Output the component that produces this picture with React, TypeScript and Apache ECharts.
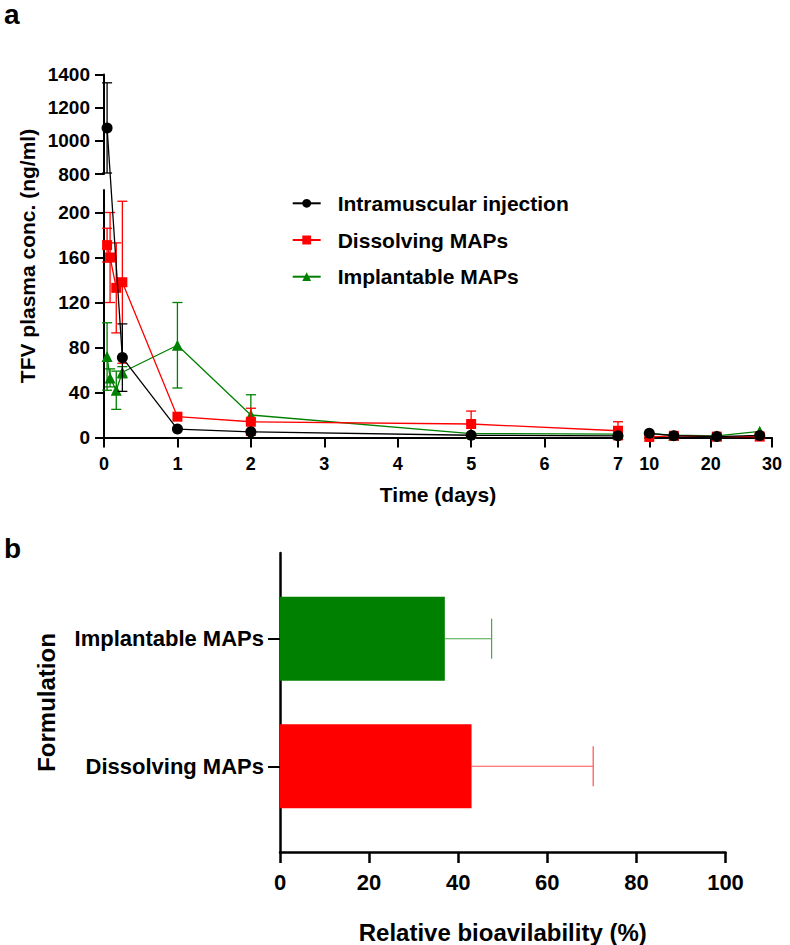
import React, { useEffect, useRef } from 'react';
import * as echarts from 'echarts';

// ---------- Panel a data (TFV plasma concentration, ng/ml) ----------
const earlyTimesIM = [0.042, 0.25, 1, 2, 5, 7];
const meanIM = [1078, 71, 7.5, 5, 2, 1.5];
const sdIM = [272, 30, 0, 0, 0, 0];

const earlyTimesMAP = [0.042, 0.083, 0.167, 0.25, 1, 2, 5, 7];
const meanDissolving = [171, 160, 133, 138, 18.5, 14, 12, 6];
const sdDissolving = [15, 40, 40, 72, 0, 12, 11.5, 8];
const meanImplantable = [72, 53, 42, 58, 82, 20, 3.5, 3];
const sdImplantable = [30, 8, 17, 5, 38, 18, 0, 0];

const lateTimes = [10, 14, 21, 28];
const lateIM = [3.7, 1.6, 0.8, 1.8];
const lateDissolving = [0.5, 1.5, 0.8, 0.8];
const lateImplantable = [3.5, 2, 1.5, 5.5];

const lateXTicks = [10, 20, 30];
const lowYTicks = [0, 40, 80, 120, 160, 200];

// ---------- Panel b data (relative bioavailability, %) ----------
const formulations = ['Dissolving MAPs', 'Implantable MAPs'];
const bioMean = [43, 37];
const bioSd = [27.3, 10.5];

// ---------- styling / layout ----------
const FONT = '"Liberation Sans", Arial, Helvetica, sans-serif';
const C_IM = '#000000';
const C_DM = '#ff0000';
const C_IMP = '#008000';
const BAR_COLORS = ['#ff0000', '#008000'];
const BAR_ERR_COLORS = ['#ff5050', '#45a845'];

const A_LEFT = 104;
const A_TOP = 74.5;
const A_BOTTOM = 437.5;
const A_H = A_BOTTOM - A_TOP;
const SEG_HI_H = 99.5;
const SEG_GAP = 16;
const SEG_LO_H = A_H - SEG_HI_H - SEG_GAP;
const LO_MAX = 220;
const HI_MIN = 800;
const HI_MAX = 1400;

// broken-axis mapping: raw concentration -> position on the continuous hidden axis
const tf = (v: number) =>
  v <= LO_MAX
    ? (v / LO_MAX) * SEG_LO_H
    : SEG_LO_H + SEG_GAP + ((v - HI_MIN) / (HI_MAX - HI_MIN)) * SEG_HI_H;

const lineData = (t: number[], m: number[]) => t.map((x, i) => [x, tf(m[i])]);
const errData = (t: number[], m: number[], s: number[]) =>
  t
    .map((x, i) => (s[i] > 0 ? [x, tf(m[i]), tf(m[i] + s[i]), tf(m[i] - s[i])] : null))
    .filter((d) => d !== null);

const errRender = (color: string) => (params: any, api: any) => {
  const x = api.value(0);
  const top = api.coord([x, api.value(2)]);
  const bot = api.coord([x, api.value(3)]);
  const hw = 5;
  const style = { stroke: color, lineWidth: 1.3, fill: 'none' };
  return {
    type: 'group',
    children: [
      { type: 'line', shape: { x1: top[0], y1: top[1], x2: bot[0], y2: bot[1] }, style },
      { type: 'line', shape: { x1: top[0] - hw, y1: top[1], x2: top[0] + hw, y2: top[1] }, style },
      { type: 'line', shape: { x1: bot[0] - hw, y1: bot[1], x2: bot[0] + hw, y2: bot[1] }, style },
    ],
  };
};

const barErrRender = (params: any, api: any) => {
  const idx = params.dataIndex;
  const v = api.value(0);
  const c = api.value(1);
  const s = api.value(2);
  const p0 = api.coord([v, c]);
  const p1 = api.coord([v + s, c]);
  const hh = 20;
  const style = { stroke: BAR_ERR_COLORS[idx], lineWidth: 1.2, fill: 'none' };
  return {
    type: 'group',
    children: [
      { type: 'line', shape: { x1: p0[0], y1: p0[1], x2: p1[0], y2: p1[1] }, style },
      { type: 'line', shape: { x1: p1[0], y1: p1[1] - hh, x2: p1[0], y2: p1[1] + hh }, style },
    ],
  };
};

const boldText = (size: number) => ({
  fontFamily: FONT,
  fontWeight: 'bold' as const,
  fontSize: size,
  color: '#000',
});

const plain = (v: number) => String(v);

const lineSeries = (
  name: string,
  xi: number,
  data: number[][],
  color: string,
  symbol: string,
  size: number,
  z: number
) => ({
  type: 'line',
  name,
  xAxisIndex: xi,
  yAxisIndex: xi,
  data,
  symbol,
  symbolSize: size,
  showSymbol: true,
  z,
  lineStyle: { color, width: 1.3 },
  itemStyle: { color },
  emphasis: { disabled: true },
});

const errSeries = (xi: number, data: any[], color: string, z: number) => ({
  type: 'custom',
  xAxisIndex: xi,
  yAxisIndex: xi,
  data,
  encode: { x: 0, y: [2, 3] },
  renderItem: errRender(color),
  z,
  silent: true,
});

export default function App() {
  const ref = useRef<HTMLDivElement>(null);

  useEffect(() => {
    if (!ref.current) return;
    const chart = echarts.init(ref.current, undefined, { renderer: 'svg' });
    const axisLineA = { show: true, onZero: false, lineStyle: { color: '#000', width: 2 } };
    const axisLineB = { show: true, onZero: false, lineStyle: { color: '#000', width: 2.5 } };

    const option: any = {
      animation: false,
      legend: {
        orient: 'vertical',
        left: 286.7,
        top: 187.3,
        itemWidth: 28,
        itemHeight: 11,
        itemGap: 14.7,
        data: ['Intramuscular injection', 'Dissolving MAPs', 'Implantable MAPs'],
        textStyle: { ...boldText(21), lineHeight: 22, padding: [0, 0, 0, 12] },
        selectedMode: false,
      },
      graphic: [
        { type: 'text', left: 4, top: 0, style: { text: 'a', fill: '#000', font: `bold 28px ${FONT}` } },
        { type: 'text', left: 4, top: 534, style: { text: 'b', fill: '#000', font: `bold 28px ${FONT}` } },
      ],
      grid: [
        { left: A_LEFT, top: A_TOP, width: 514, height: A_H },
        { left: 645, top: A_TOP, width: 127, height: A_H },
        { left: A_LEFT, top: A_TOP, width: 10, height: SEG_HI_H },
        { left: A_LEFT, top: A_TOP + SEG_HI_H + SEG_GAP, width: 10, height: SEG_LO_H },
        { left: A_LEFT, top: A_TOP, width: 668, height: A_H },
        { left: 280, top: 553, width: 445.5, height: 299 },
        { left: 280, top: 575, width: 445.5, height: 255 },
      ],
      xAxis: [
        {
          gridIndex: 0, type: 'value', min: 0, max: 7, interval: 1,
          axisLine: axisLineA,
          axisTick: { show: true, length: 10, lineStyle: { color: '#000', width: 2 } },
          axisLabel: { ...boldText(18), margin: 17, formatter: plain },
          splitLine: { show: false },
        },
        {
          gridIndex: 1, type: 'value', min: 9.3, max: 30,
          axisLine: axisLineA,
          axisTick: { show: true, length: 10, customValues: lateXTicks, lineStyle: { color: '#000', width: 2 } },
          axisLabel: { ...boldText(18), margin: 17, customValues: lateXTicks, formatter: plain },
          splitLine: { show: false },
        },
        { gridIndex: 2, type: 'value', min: 0, max: 1, show: false },
        { gridIndex: 3, type: 'value', min: 0, max: 1, show: false },
        {
          gridIndex: 4, type: 'value', min: 0, max: 1,
          axisLine: { show: false }, axisTick: { show: false }, axisLabel: { show: false }, splitLine: { show: false },
          name: 'Time (days)', nameLocation: 'middle', nameGap: 46,
          nameTextStyle: boldText(21),
        },
        {
          gridIndex: 5, type: 'value', min: 0, max: 100, interval: 20,
          axisLine: axisLineB,
          axisTick: { show: true, length: 11, lineStyle: { color: '#000', width: 2.5 } },
          axisLabel: { ...boldText(22), margin: 19, formatter: plain },
          splitLine: { show: false },
          name: 'Relative bioavilability (%)', nameLocation: 'middle', nameGap: 68,
          nameTextStyle: boldText(24),
        },
        { gridIndex: 6, type: 'value', min: 0, max: 100, show: false },
      ],
      yAxis: [
        { gridIndex: 0, type: 'value', min: 0, max: A_H, show: false },
        { gridIndex: 1, type: 'value', min: 0, max: A_H, show: false },
        {
          gridIndex: 2, type: 'value', min: HI_MIN, max: HI_MAX, interval: 200,
          axisLine: axisLineA,
          axisTick: { show: true, length: 9, lineStyle: { color: '#000', width: 2 } },
          axisLabel: { ...boldText(19), margin: 14, formatter: plain },
          splitLine: { show: false },
        },
        {
          gridIndex: 3, type: 'value', min: 0, max: LO_MAX,
          axisLine: axisLineA,
          axisTick: { show: true, length: 9, customValues: lowYTicks, lineStyle: { color: '#000', width: 2 } },
          axisLabel: { ...boldText(19), margin: 14, customValues: lowYTicks, formatter: plain },
          splitLine: { show: false },
        },
        {
          gridIndex: 4, type: 'value', min: 0, max: 1,
          axisLine: { show: false }, axisTick: { show: false }, axisLabel: { show: false }, splitLine: { show: false },
          name: 'TFV plasma conc. (ng/ml)', nameLocation: 'middle', nameGap: 66,
          nameTextStyle: boldText(21),
        },
        {
          gridIndex: 5, type: 'value', min: 0, max: 1,
          axisLine: axisLineB, axisTick: { show: false }, axisLabel: { show: false }, splitLine: { show: false },
          name: 'Formulation', nameLocation: 'middle', nameGap: 222,
          nameTextStyle: boldText(24),
        },
        {
          gridIndex: 6, type: 'category', data: formulations,
          axisLine: { show: false },
          axisTick: { show: true, alignWithLabel: true, length: 12, lineStyle: { color: '#000', width: 2 } },
          axisLabel: { ...boldText(22), margin: 16 },
          splitLine: { show: false },
        },
      ],
      series: [
        errSeries(0, errData(earlyTimesMAP, meanImplantable, sdImplantable), C_IMP, 1),
        lineSeries('Implantable MAPs', 0, lineData(earlyTimesMAP, meanImplantable), C_IMP, 'triangle', 11, 2),
        lineSeries('Implantable MAPs', 1, lineData(lateTimes, lateImplantable), C_IMP, 'triangle', 11, 2),
        errSeries(0, errData(earlyTimesMAP, meanDissolving, sdDissolving), C_DM, 3),
        lineSeries('Dissolving MAPs', 0, lineData(earlyTimesMAP, meanDissolving), C_DM, 'rect', 10, 4),
        lineSeries('Dissolving MAPs', 1, lineData(lateTimes, lateDissolving), C_DM, 'rect', 10, 4),
        errSeries(0, errData(earlyTimesIM, meanIM, sdIM), C_IM, 5),
        lineSeries('Intramuscular injection', 0, lineData(earlyTimesIM, meanIM), C_IM, 'circle', 11, 6),
        lineSeries('Intramuscular injection', 1, lineData(lateTimes, lateIM), C_IM, 'circle', 11, 6),
        {
          type: 'bar',
          name: 'Relative bioavailability',
          xAxisIndex: 6,
          yAxisIndex: 6,
          barWidth: 84,
          data: bioMean.map((v, i) => ({ value: v, itemStyle: { color: BAR_COLORS[i] } })),
          z: 2,
          silent: true,
        },
        {
          type: 'custom',
          xAxisIndex: 6,
          yAxisIndex: 6,
          data: bioMean.map((v, i) => [v, i, bioSd[i]]),
          encode: { x: 0, y: 1 },
          renderItem: barErrRender,
          z: 1,
          silent: true,
        },
      ],
    };
    chart.setOption(option);
    return () => chart.dispose();
  }, []);

  return (
    <div
      ref={ref}
      style={{ position: 'absolute', left: 0, top: 0, width: 790, height: 945, background: '#fff' }}
    />
  );
}
